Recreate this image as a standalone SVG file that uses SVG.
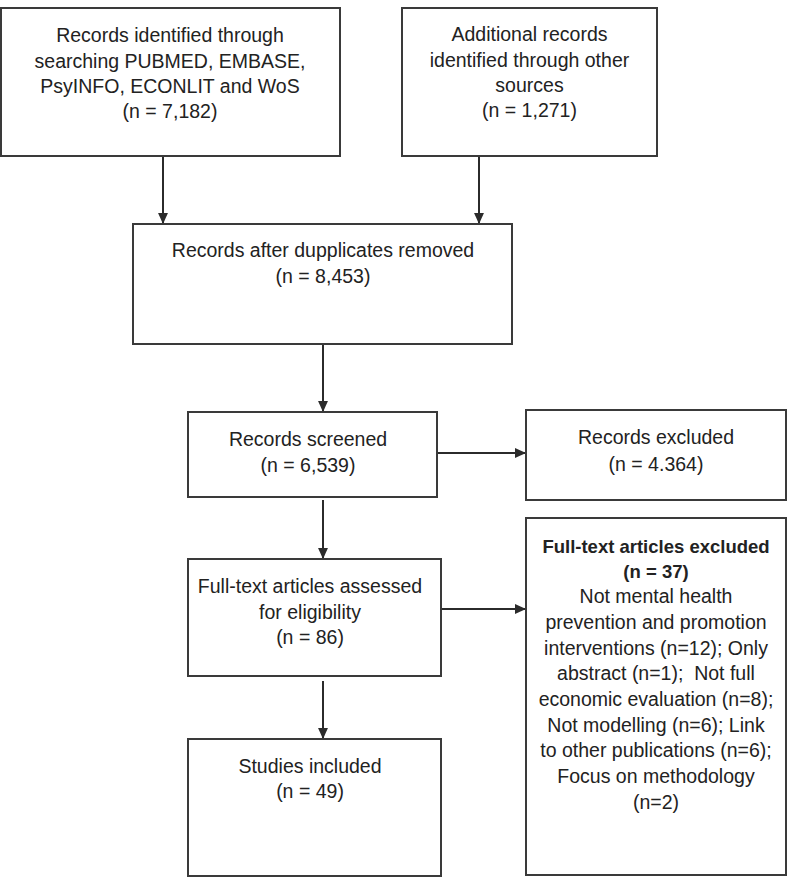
<svg xmlns="http://www.w3.org/2000/svg" width="789" height="877" viewBox="0 0 789 877">
<defs>
<marker id="ah" viewBox="0 0 10 10" refX="10" refY="5" markerWidth="11" markerHeight="11" markerUnits="userSpaceOnUse" orient="auto">
<path d="M0,0.5 L10,5 L0,9.5 Z" fill="#2b2b2b"/>
</marker>
<style>
.box{fill:#fff;stroke:#3a3a3a;stroke-width:2}
.t{font-family:"Liberation Sans",Arial,sans-serif;font-size:19.5px;fill:#222;text-anchor:middle}
.b{font-weight:bold;font-size:18.5px}
.c{fill:none;stroke:#2b2b2b;stroke-width:2;marker-end:url(#ah)}
</style>
</defs>
<rect width="789" height="877" fill="#fff"/>
<g id="connectors">
<line class="c" x1="163" y1="156" x2="163" y2="224"/>
<line class="c" x1="479" y1="156" x2="479" y2="224"/>
<line class="c" x1="323" y1="344" x2="323" y2="412"/>
<line class="c" x1="323" y1="500" x2="323" y2="559"/>
<line class="c" x1="323" y1="681" x2="323" y2="739"/>
<line class="c" x1="437" y1="453" x2="526" y2="453"/>
<line class="c" x1="441" y1="609" x2="526" y2="609"/>
</g>
<g id="n1">
<rect class="box" x="1" y="8" width="339" height="148"/>
<text class="t" x="170" y="42">Records identified through</text>
<text class="t" x="170" y="68">searching PUBMED, EMBASE,</text>
<text class="t" x="170" y="93">PsyINFO, ECONLIT and WoS</text>
<text class="t" x="170" y="118">(n = 7,182)</text>
</g>
<g id="n2">
<rect class="box" x="402" y="8" width="255" height="148"/>
<text class="t" x="529.5" y="41">Additional records</text>
<text class="t" x="529.5" y="67">identified through other</text>
<text class="t" x="529.5" y="92">sources</text>
<text class="t" x="529.5" y="117">(n = 1,271)</text>
</g>
<g id="n3">
<rect class="box" x="133" y="224" width="379" height="120"/>
<text class="t" x="323" y="257">Records after dupplicates removed</text>
<text class="t" x="323" y="283">(n = 8,453)</text>
</g>
<g id="n4">
<rect class="box" x="188" y="412" width="249" height="85"/>
<text class="t" x="308" y="446">Records screened</text>
<text class="t" x="308" y="472">(n = 6,539)</text>
</g>
<g id="n5">
<rect class="box" x="526" y="410" width="260" height="90"/>
<text class="t" x="656" y="444">Records excluded</text>
<text class="t" x="656" y="471">(n = 4.364)</text>
</g>
<g id="n6">
<rect class="box" x="188" y="559" width="253" height="117"/>
<text class="t" x="310" y="593">Full-text articles assessed</text>
<text class="t" x="310" y="619">for eligibility</text>
<text class="t" x="310" y="644">(n = 86)</text>
</g>
<g id="n7">
<rect class="box" x="526" y="518" width="260" height="357"/>
<text class="t b" x="656" y="553">Full-text articles excluded</text>
<text class="t b" x="656" y="578">(n = 37)</text>
<text class="t" x="656" y="603">Not mental health</text>
<text class="t" x="656" y="629">prevention and promotion</text>
<text class="t" x="656" y="655">interventions (n=12); Only</text>
<text class="t" x="656" y="680" xml:space="preserve">abstract (n=1);  Not full</text>
<text class="t" x="656" y="706">economic evaluation (n=8);</text>
<text class="t" x="656" y="732">Not modelling (n=6); Link</text>
<text class="t" x="656" y="757">to other publications (n=6);</text>
<text class="t" x="656" y="783">Focus on methodology</text>
<text class="t" x="656" y="809">(n=2)</text>
</g>
<g id="n8">
<rect class="box" x="188" y="739" width="253" height="137"/>
<text class="t" x="310" y="773">Studies included</text>
<text class="t" x="310" y="798">(n = 49)</text>
</g>
</svg>
